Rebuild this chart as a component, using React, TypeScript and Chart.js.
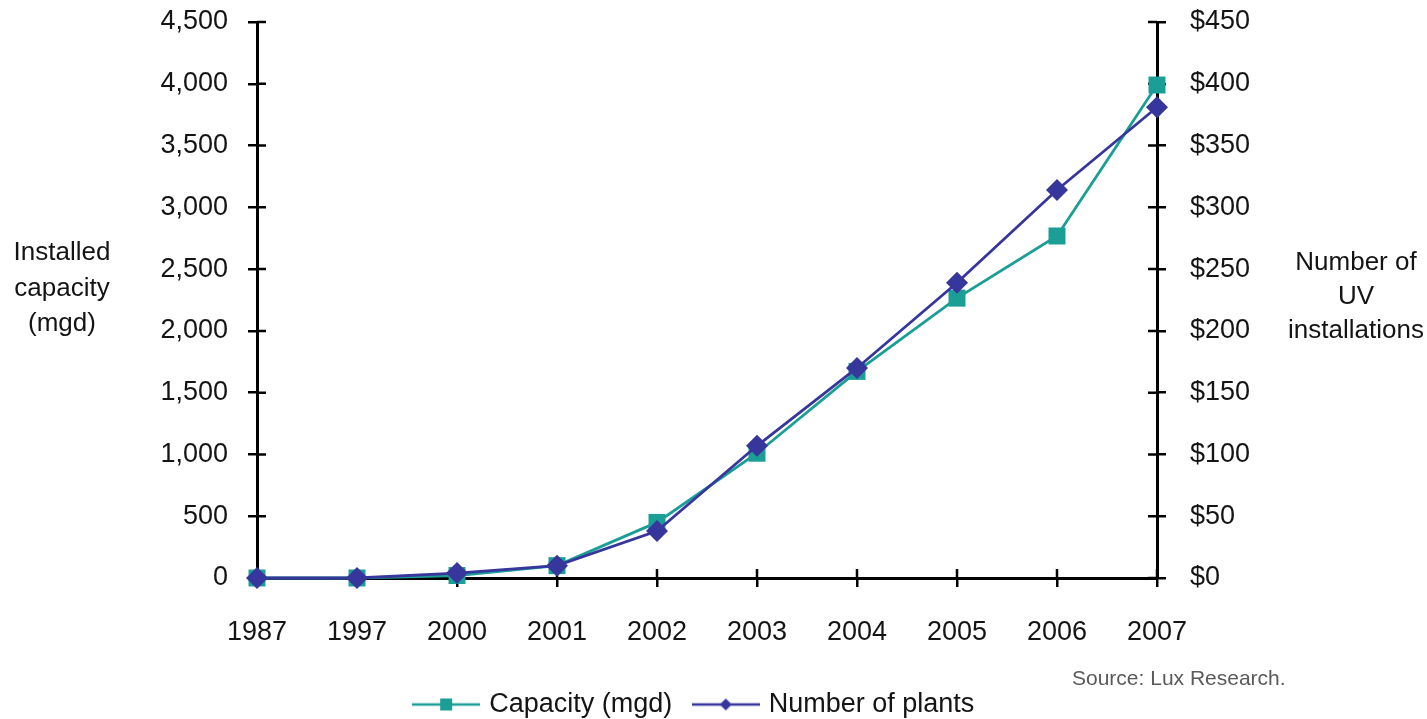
import React, { useEffect, useRef } from 'react';
import { Chart, registerables } from 'chart.js';

Chart.register(...registerables);

const years = ['1987', '1997', '2000', '2001', '2002', '2003', '2004', '2005', '2006', '2007'];
const capacityMgd = [0, 0, 20, 100, 450, 1010, 1672, 2265, 2768, 3990];
const numberOfPlants = [0, 0, 4, 10, 38, 107, 170, 239, 314, 381];
const leftAxisTitle = ['Installed', 'capacity', '(mgd)'];
const rightAxisTitle = ['Number of', 'UV', 'installations'];
const sourceNote = 'Source: Lux Research.';
const seriesNames = ['Capacity (mgd)', 'Number of plants'];

const TEAL = '#1a9e96';
const BLUE = '#36369c';
const FONT = "'Liberation Sans', Arial, sans-serif";
const TEXT = '#141414';
const TICK_SIZE = 27;

function legendIcon(color: string, kind: 'square' | 'diamond') {
  const c = document.createElement('canvas');
  c.width = 68;
  c.height = 20;
  const ctx = c.getContext('2d')!;
  ctx.strokeStyle = color;
  ctx.lineWidth = 2.5;
  ctx.beginPath();
  ctx.moveTo(0, 10);
  ctx.lineTo(68, 10);
  ctx.stroke();
  ctx.fillStyle = color;
  if (kind === 'square') {
    ctx.fillRect(34 - 6, 10 - 6, 12, 12);
  } else {
    ctx.beginPath();
    ctx.moveTo(34, 4);
    ctx.lineTo(40, 10);
    ctx.lineTo(34, 16);
    ctx.lineTo(28, 10);
    ctx.closePath();
    ctx.fill();
  }
  return c;
}

const decorPlugin = {
  id: 'decor',
  beforeDatasetsDraw(chart: any) {
    const { ctx, chartArea, scales } = chart;
    ctx.save();
    ctx.strokeStyle = '#000';
    ctx.lineWidth = 2.5;
    const yl = scales.y;
    const yr = scales.y1;
    const x = scales.x;
    ctx.beginPath();
    yl.ticks.forEach((_: any, i: number) => {
      const p = yl.getPixelForTick(i);
      ctx.moveTo(chartArea.left, p);
      ctx.lineTo(chartArea.left + 9, p);
    });
    yr.ticks.forEach((_: any, i: number) => {
      const p = yr.getPixelForTick(i);
      ctx.moveTo(chartArea.right - 9, p);
      ctx.lineTo(chartArea.right, p);
    });
    x.ticks.forEach((_: any, i: number) => {
      const p = x.getPixelForTick(i);
      ctx.moveTo(p, chartArea.bottom - 9);
      ctx.lineTo(p, chartArea.bottom);
    });
    ctx.stroke();
    ctx.restore();
  },
  afterDraw(chart: any) {
    const { ctx, chartArea } = chart;
    ctx.save();
    ctx.fillStyle = TEXT;
    ctx.font = `26px ${FONT}`;
    ctx.textAlign = 'center';
    ctx.textBaseline = 'middle';
    const leftX = chartArea.left - 195;
    leftAxisTitle.forEach((t, i) => ctx.fillText(t, leftX, 253 + i * 35.5));
    const rightX = 1356;
    rightAxisTitle.forEach((t, i) => ctx.fillText(t, rightX, 263 + i * 34));
    ctx.font = `21px ${FONT}`;
    ctx.fillStyle = '#5a5a5a';
    ctx.textAlign = 'left';
    ctx.fillText(sourceNote, 1072, 679);
    ctx.restore();
  },
};

const fixVerticalPadding = (s: any, w: number) => {
  s.width = w;
  s.paddingTop = 22;
  s.paddingBottom = 16;
};

export default function App() {
  const ref = useRef<HTMLCanvasElement | null>(null);

  useEffect(() => {
    if (!ref.current) return;
    const icons = [legendIcon(TEAL, 'square'), legendIcon(BLUE, 'diamond')];
    const chart = new Chart(ref.current, {
      type: 'line',
      data: {
        labels: years,
        datasets: [
          {
            label: seriesNames[0],
            data: capacityMgd,
            yAxisID: 'y',
            borderColor: TEAL,
            backgroundColor: TEAL,
            borderWidth: 2.8,
            pointStyle: 'rect',
            pointRadius: 12,
            pointBorderWidth: 0,
            tension: 0,
            clip: false as any,
            order: 2,
          },
          {
            label: seriesNames[1],
            data: numberOfPlants,
            yAxisID: 'y1',
            borderColor: BLUE,
            backgroundColor: BLUE,
            borderWidth: 2.8,
            pointStyle: 'rectRot',
            pointRadius: 11,
            pointBorderWidth: 0,
            tension: 0,
            clip: false as any,
            order: 1,
          },
        ],
      },
      options: {
        responsive: false,
        animation: false,
        layout: { padding: { top: 0, left: 0, right: 36, bottom: 0 } },
        plugins: {
          tooltip: { enabled: false },
          legend: {
            position: 'bottom',
            maxHeight: 52,
            labels: {
              usePointStyle: true,
              pointStyleWidth: 59,
              padding: 24,
              color: TEXT,
              font: { family: FONT, size: TICK_SIZE },
              generateLabels: () =>
                seriesNames.map((name, i) => ({
                  text: name,
                  pointStyle: icons[i] as any,
                  fillStyle: i === 0 ? TEAL : BLUE,
                  strokeStyle: i === 0 ? TEAL : BLUE,
                  lineWidth: 0,
                  hidden: false,
                  datasetIndex: i,
                  fontColor: TEXT,
                })),
            },
          },
        },
        scales: {
          x: {
            type: 'category',
            offset: false,
            afterFit: (s: any) => {
              s.height = 89;
            },
            grid: {
              drawOnChartArea: false,
              drawTicks: true,
              tickLength: 9,
              color: '#000',
              lineWidth: 2.5,
              offset: false,
            },
            border: { display: true, color: '#000', width: 3 },
            ticks: {
              color: TEXT,
              padding: 29,
              maxRotation: 0,
              autoSkip: false,
              font: { family: FONT, size: TICK_SIZE },
            },
          },
          y: {
            type: 'linear',
            position: 'left',
            min: 0,
            max: 4500,
            afterFit: (s: any) => fixVerticalPadding(s, 257),
            grid: {
              drawOnChartArea: false,
              drawTicks: true,
              tickLength: 9,
              color: '#000',
              lineWidth: 2.5,
            },
            border: { display: true, color: '#000', width: 3 },
            ticks: {
              stepSize: 500,
              color: TEXT,
              padding: 20,
              font: { family: FONT, size: TICK_SIZE },
              callback: (v: any) => Number(v).toLocaleString('en-US'),
            },
          },
          y1: {
            type: 'linear',
            position: 'right',
            min: 0,
            max: 450,
            afterFit: (s: any) => fixVerticalPadding(s, 234),
            grid: {
              drawOnChartArea: false,
              drawTicks: true,
              tickLength: 9,
              color: '#000',
              lineWidth: 2.5,
            },
            border: { display: true, color: '#000', width: 3 },
            ticks: {
              stepSize: 50,
              color: TEXT,
              padding: 24,
              font: { family: FONT, size: TICK_SIZE },
              callback: (v: any) => '$' + v,
            },
          },
        },
      },
      plugins: [decorPlugin],
    });
    return () => chart.destroy();
  }, []);

  return (
    <canvas
      ref={ref}
      width={1427}
      height={719}
      style={{ position: 'absolute', left: 0, top: 0, width: 1427, height: 719 }}
    />
  );
}
